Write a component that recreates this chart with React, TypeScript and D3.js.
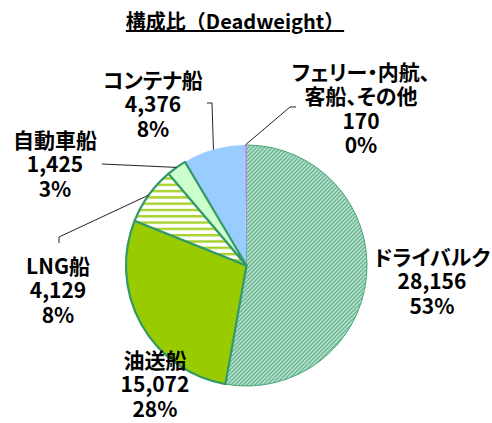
import React from "react";
import * as d3 from "d3";

// ---- data ----
const categories: string[][] = [
  ["ドライバルク"],
  ["油送船"],
  ["LNG船"],
  ["自動車船"],
  ["コンテナ船"],
  ["フェリー・内航、", "客船、その他"],
];
const values: number[] = [28156, 15072, 4129, 1425, 4376, 170];
const title = "構成比（Deadweight）";

// ---- layout / style ----
const W = 492, H = 423;
const cx = 246.5, cy = 265.5, R = 120.5;
const fills = ["url(#dryPat)", "#99cc00", "url(#lngPat)", "#ccffcc", "#99ccff", "#cc99ff"];
const strokes = ["#45a676", "#339966", "#339966", "#339966", "none", "none"];
const strokeWidths = [1, 2.2, 2.2, 2.2, 0, 0];
const drawOrder = [0, 4, 5, 1, 2, 3];
const labelPos: [number, number][] = [[432, 256], [155, 359], [58, 265], [55, 139], [153, 79], [361, 71]];
const leaderStart: ([number, number][] | null)[] = [
  null, null,
  [[59, 243], [59, 237]],
  [[102, 164]],
  [[207, 103], [212, 103]],
  [[296, 107], [290, 107]],
];
const lineH = 24.3;
const font = "'Noto Sans CJK JP', 'Noto Sans', sans-serif";

export default function App() {
  const total = d3.sum(values);
  const pie = d3.pie<number>().sort(null).value((d) => d);
  const arcs = pie(values);
  const arcGen = d3.arc<d3.PieArcDatum<number>>().innerRadius(0).outerRadius(R);
  const edgeGen = d3.arc<d3.PieArcDatum<number>>().innerRadius(R).outerRadius(R);
  const fmt = d3.format(",");

  return (
    <svg width={W} height={H} style={{ position: "absolute", left: 0, top: 0, background: "#fff" }}>
      <defs>
        <pattern id="dryPat" patternUnits="userSpaceOnUse" width={4} height={4}>
          <rect width={4} height={4} fill="#fff" />
          <path d="M-1,1 L1,-1 M0,4 L4,0 M3,5 L5,3" stroke="#4aaa7c" strokeWidth={1.6} />
        </pattern>
        <pattern id="lngPat" patternUnits="userSpaceOnUse" width={6} height={6.3}>
          <rect width={6} height={6.3} fill="#fff" />
          <rect y={0} width={6} height={2.4} fill="#a6d22c" />
        </pattern>
      </defs>
      <g transform={`translate(${cx},${cy})`}>
        {drawOrder.map((i) => (
          <path
            key={i}
            d={arcGen(arcs[i]) || ""}
            fill={fills[i]}
            stroke={strokes[i]}
            strokeWidth={strokeWidths[i]}
            strokeLinejoin="round"
          />
        ))}
      </g>
      {arcs.map((a, i) => {
        const st = leaderStart[i];
        if (!st) return null;
        const [ex, ey] = edgeGen.centroid(a);
        const pts = [...st, [cx + ex, cy + ey]];
        return (
          <polyline
            key={"l" + i}
            points={pts.map((p) => p.join(",")).join(" ")}
            fill="none"
            stroke="#222"
            strokeWidth={1}
          />
        );
      })}
      {arcs.map((a, i) => {
        const lines = [...categories[i], fmt(values[i]), `${Math.round((values[i] / total) * 100)}%`];
        const [lx, ly] = labelPos[i];
        return (
          <text
            key={"t" + i}
            x={lx}
            textAnchor="middle"
            fontFamily={font}
            fontWeight="bold"
            fontSize={21}
            fill="#000"
            style={{ fontFeatureSettings: "'palt'" }}
          >
            {lines.map((s, k) => (
              <tspan key={k} x={lx} y={ly + k * lineH} dominantBaseline="central">
                {s}
              </tspan>
            ))}
          </text>
        );
      })}
      <text
        x={235}
        y={29}
        textAnchor="middle"
        fontFamily={font}
        fontWeight="bold"
        fontSize={20}
        fill="#000"
        style={{ textDecoration: "underline" }}
      >
        {title}
      </text>
    </svg>
  );
}
